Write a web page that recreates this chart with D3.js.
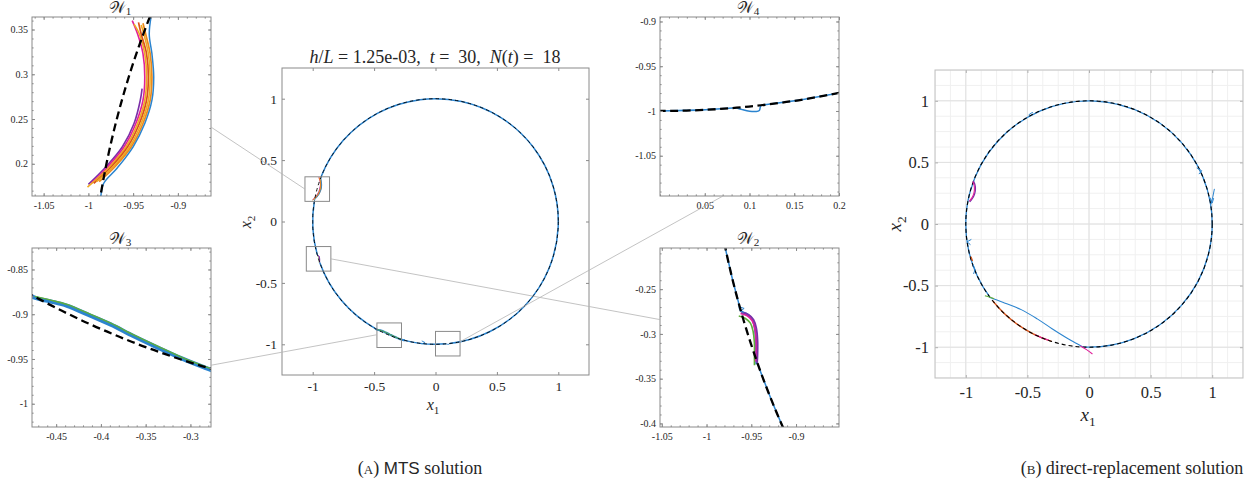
<!DOCTYPE html>
<html>
<head>
<meta charset="utf-8">
<script src="https://cdn.jsdelivr.net/npm/d3@7"></script>
<style>
body { margin: 0; background: #fff; }
svg text { font-family: "Liberation Serif", "Times New Roman", serif; fill: #262626; }
</style>
</head>
<body>
<svg id="fig" width="1253" height="486" font-family="Liberation Serif, Times New Roman, serif"></svg>
<script>
// ---- data ----
const mainTicks = [-1, -0.5, 0, 0.5, 1];
const mainDomain = [-1.25, 1.25];

// insets: windows on the unit circle
const w1Dom = { x: [-1.063, -0.863], y: [0.164, 0.364] };
const w2Dom = { x: [-1.052, -0.852], y: [-0.404, -0.204] };
const w3Dom = { x: [-0.477, -0.277], y: [-1.026, -0.826] };
const w4Dom = { x: [0, 0.2], y: [-1.095, -0.895] };
const w1XTicks = [-1.05, -1, -0.95, -0.9], w1YTicks = [0.2, 0.25, 0.3, 0.35];
const w2XTicks = [-1.05, -1, -0.95, -0.9], w2YTicks = [-0.4, -0.35, -0.3, -0.25];
const w3XTicks = [-0.45, -0.4, -0.35, -0.3], w3YTicks = [-1, -0.95, -0.9, -0.85];
const w4XTicks = [0.05, 0.1, 0.15, 0.2], w4YTicks = [-1.05, -1, -0.95, -0.9];

// blue trajectory arcs on the circle (degrees), panel A
const arcsA = [[276.6, 518.3], [170.5, 195.5], [199.5, 240.7], [255.5, 274.9]];

// W1 bundle
const w1Purple = [[-1.000, 0.177], [-0.980, 0.197], [-0.962, 0.219], [-0.949, 0.245], [-0.942, 0.271], [-0.940, 0.284]];
const w1Magenta = [[-0.997, 0.178], [-0.978, 0.197], [-0.960, 0.219], [-0.947, 0.245], [-0.939, 0.271], [-0.937, 0.297], [-0.939, 0.323], [-0.945, 0.345], [-0.951, 0.360]];
const w1Yellow = [[-1.001, 0.174], [-0.976, 0.197], [-0.958, 0.219], [-0.945, 0.245], [-0.937, 0.271], [-0.935, 0.297], [-0.937, 0.323], [-0.943, 0.345], [-0.949, 0.356]];
const w1Orange = [[-0.994, 0.178], [-0.974, 0.197], [-0.956, 0.219], [-0.943, 0.245], [-0.935, 0.271], [-0.933, 0.297], [-0.935, 0.323], [-0.941, 0.345], [-0.944, 0.358]];
const w1Yellow2 = [[-0.991, 0.180], [-0.972, 0.197], [-0.954, 0.219], [-0.941, 0.245], [-0.933, 0.271], [-0.931, 0.297], [-0.933, 0.323], [-0.938, 0.345], [-0.941, 0.355]];
const w1Orange2 = [[-0.988, 0.180], [-0.970, 0.197], [-0.952, 0.219], [-0.939, 0.245], [-0.931, 0.271], [-0.929, 0.297], [-0.931, 0.323], [-0.936, 0.345], [-0.939, 0.357]];
const w1Blue = [[-0.986, 0.164], [-0.983, 0.178], [-0.968, 0.195], [-0.950, 0.219], [-0.937, 0.245], [-0.929, 0.271], [-0.927, 0.297], [-0.929, 0.323], [-0.932, 0.345], [-0.929, 0.370]];

// W2 bundle
const w2Blue = [[-0.9635, -0.268], [-0.962, -0.274], [-0.955, -0.2775], [-0.9495, -0.2825], [-0.9465, -0.292], [-0.945, -0.3065], [-0.945, -0.3215], [-0.9445, -0.334]];
const w2Green = [[-0.964, -0.280], [-0.957, -0.2825], [-0.951, -0.288], [-0.948, -0.297], [-0.9465, -0.310], [-0.9465, -0.323], [-0.9465, -0.335]];
const w2Magenta = [[-0.962, -0.277], [-0.955, -0.2795], [-0.949, -0.285], [-0.946, -0.294], [-0.9445, -0.308], [-0.9445, -0.322], [-0.945, -0.331]];
const w2Purple = [[-0.961, -0.276], [-0.953, -0.2785], [-0.9475, -0.284], [-0.9445, -0.293], [-0.943, -0.307], [-0.943, -0.322], [-0.9435, -0.333]];
const w2Zig = [[-0.9625, -0.270], [-0.958, -0.2715], [-0.962, -0.2745], [-0.9585, -0.2765]];

// W3 bundle
const w3Blue = [[-0.490, -0.8717], [-0.474, -0.8815], [-0.457, -0.8855], [-0.438, -0.8905], [-0.412, -0.9015], [-0.389, -0.9115], [-0.3635, -0.9245], [-0.336, -0.9375], [-0.3095, -0.9495], [-0.287, -0.9585], [-0.2745, -0.9630], [-0.25, -0.9682]];
const w3Green = [[-0.474, -0.8800], [-0.457, -0.8840], [-0.438, -0.8890], [-0.412, -0.9000], [-0.389, -0.9100], [-0.3635, -0.9230], [-0.336, -0.9360], [-0.3095, -0.9482], [-0.287, -0.9572], [-0.2745, -0.9618]];

// W4 dip
const w4Blue = [[0.085, -0.9964], [0.092, -0.9985], [0.100, -1.0003], [0.107, -1.0006], [0.111, -0.9995], [0.1125, -0.9945], [0.115, -0.9934]];

// small barb in A
const barbA = [[-0.112, -0.972], [-0.085, -0.986], [-0.112, -0.998]];

// panel B
const arcsB = [[-92.9, 216.3]];
const orangeArcsB = [[218.7, 252.5]];
const magentaArcsB = [[244, 251]];
const chordB = [[-0.81, -0.595], [-0.7, -0.635], [-0.55, -0.695], [-0.42, -0.77], [-0.3, -0.85], [-0.18, -0.925], [-0.1, -0.97], [-0.05, -0.998]];
const magentaB = [[-0.07, -0.99], [-0.02, -1.02], [0.028, -1.055]];
const greenB = [[-0.845, -0.583], [-0.805, -0.594], [-0.77, -0.606]];
const bumpPurpleB = [[-0.968, 0.18], [-0.948, 0.205], [-0.93, 0.24], [-0.922, 0.28], [-0.926, 0.32], [-0.94, 0.35]];
const bumpMagentaB = [[-0.972, 0.185], [-0.952, 0.21], [-0.936, 0.245], [-0.93, 0.28], [-0.933, 0.315], [-0.945, 0.345]];
const orangeB = [[-0.958, -0.265], [-0.945, -0.3]];
const barbsB = [
    [[0.875, 0.455], [0.915, 0.432], [0.892, 0.405]],
    [[0.99, 0.16], [1.005, 0.22], [1.018, 0.285]],
    [[0.982, 0.215], [1.0, 0.17], [1.012, 0.21]],
    [[-0.955, -0.125], [-0.99, -0.145], [-0.962, -0.168]],
    [[-0.94, -0.33], [-0.925, -0.37], [-0.937, -0.405]],
    [[-0.49, 0.885], [-0.47, 0.9], [-0.455, 0.905]]
];

const blue = "#2b84cf", purple = "#7b2fa8", magenta = "#e0209a", yellow = "#f0aa22",
      orange = "#d95319", orange2 = "#ec8a1c", green = "#5fae3a";
const serif = "Liberation Serif, Times New Roman, serif";

const seriesA = [
    { pts: w1Purple, color: purple, w: 1.6 },
    { pts: w1Magenta, color: magenta, w: 1.6 },
    { pts: w1Yellow, color: yellow, w: 1.6 },
    { pts: w1Orange, color: orange, w: 1.7 },
    { pts: w1Yellow2, color: yellow, w: 1.6 },
    { pts: w1Orange2, color: orange2, w: 1.7 },
    { pts: w1Blue, color: blue, w: 1.5 },
    { pts: w2Blue, color: blue, w: 1.8 },
    { pts: w2Green, color: green, w: 1.6 },
    { pts: w2Magenta, color: magenta, w: 1.8 },
    { pts: w2Purple, color: purple, w: 1.8 },
    { pts: w2Zig, color: blue, w: 1.0, linear: true },
    { pts: w3Blue, color: blue, w: 4.2 },
    { pts: w3Green, color: green, w: 1.4 },
    { pts: w4Blue, color: blue, w: 1.5 },
    { pts: barbA, color: blue, w: 1.0, linear: true }
];

// ---- drawing ----
const svg = d3.select("#fig");
let clipN = 0;

function makePanel(p) {
    const x = d3.scaleLinear().domain(p.xDom).range([p.left, p.left + p.size]);
    const y = d3.scaleLinear().domain(p.yDom).range([p.top + p.size, p.top]);
    const id = "clip" + (clipN++);
    svg.append("clipPath").attr("id", id).append("rect")
        .attr("x", p.left).attr("y", p.top).attr("width", p.size).attr("height", p.size);
    const g = svg.append("g");
    const plot = g.append("g").attr("clip-path", `url(#${id})`);
    return { x, y, g, plot, left: p.left, top: p.top, size: p.size };
}

function axes(pn, o) {
    const { x, y, left, top, size } = pn;
    const fmt = d => String(d);
    const style = g => {
        g.select(".domain").remove();
        g.attr("font-family", serif).attr("font-size", o.fs).style("color", o.tick);
        g.selectAll("text").attr("fill", "#262626").attr("font-family", serif);
    };
    const sides = [
        [d3.axisBottom(x), `translate(0,${top + size})`, o.xt, o.padX],
        [d3.axisTop(x), `translate(0,${top})`, o.xt, null],
        [d3.axisLeft(y), `translate(${left},0)`, o.yt, o.padY],
        [d3.axisRight(y), `translate(${left + size},0)`, o.yt, null]
    ];
    sides.forEach(([ax, tr, vals, pad]) => {
        pn.g.append("g").attr("transform", tr)
            .call(ax.tickValues(vals).tickSizeInner(-o.tl).tickSizeOuter(0)
                .tickPadding(pad === null ? 0 : pad)
                .tickFormat(pad === null ? "" : fmt))
            .call(style);
    });
    if (o.minor) {
        [[d3.axisBottom(x), `translate(0,${top + size})`, x],
         [d3.axisTop(x), `translate(0,${top})`, x],
         [d3.axisLeft(y), `translate(${left},0)`, y],
         [d3.axisRight(y), `translate(${left + size},0)`, y]].forEach(([ax, tr, s]) => {
            pn.g.append("g").attr("transform", tr)
                .call(ax.tickValues(s.ticks(20)).tickSizeInner(-1.6).tickSizeOuter(0).tickFormat(""))
                .call(style);
        });
    }
    pn.g.append("rect").attr("x", left).attr("y", top).attr("width", size).attr("height", size)
        .attr("fill", "none").attr("stroke", o.box).attr("stroke-width", 1);
}

function arcPath(pn, a0, a1) {
    const p = d3.path();
    const cx = pn.x(0), cy = pn.y(0), r = pn.x(1) - pn.x(0);
    const t0 = -a0 * Math.PI / 180, t1 = -a1 * Math.PI / 180;
    p.moveTo(cx + r * Math.cos(t0), cy + r * Math.sin(t0));
    p.arc(cx, cy, r, t0, t1, true);
    return p.toString();
}

function drawArcs(pn, arcs, color, w) {
    arcs.forEach(a => pn.plot.append("path").attr("d", arcPath(pn, a[0], a[1]))
        .attr("fill", "none").attr("stroke", color).attr("stroke-width", w));
}

function drawCircle(pn, w, dash) {
    pn.plot.append("circle").attr("cx", pn.x(0)).attr("cy", pn.y(0)).attr("r", pn.x(1) - pn.x(0))
        .attr("fill", "none").attr("stroke", "#000").attr("stroke-width", w).attr("stroke-dasharray", dash);
}

function drawSeries(pn, list, scaleW, minW) {
    list.forEach(s => {
        const line = d3.line().x(d => pn.x(d[0])).y(d => pn.y(d[1]))
            .curve(s.linear ? d3.curveLinear : d3.curveCatmullRom.alpha(0.5));
        pn.plot.append("path").attr("d", line(s.pts)).attr("fill", "none")
            .attr("stroke", s.color).attr("stroke-width", Math.max(minW, s.w * scaleW))
            .attr("stroke-linejoin", "round");
    });
}

function label(x, y, size, parts, opts = {}) {
    const t = svg.append("text").attr("x", x).attr("y", y).attr("font-size", size)
        .attr("font-family", serif).attr("fill", "#262626")
        .attr("text-anchor", opts.anchor || "middle").style("white-space", "pre");
    if (opts.rotate) t.attr("transform", `rotate(-90,${x},${y})`);
    parts.forEach(p => {
        const ts = t.append("tspan").text(p.t);
        if (p.i) ts.attr("font-style", "italic");
        if (p.sub) ts.attr("font-size", size * 0.7).attr("dy", p.dy !== undefined ? p.dy : size * 0.25);
        if (p.fam) ts.attr("font-family", p.fam);
        if (p.fs) ts.attr("font-size", p.fs);
    });
    return t;
}

// ---- panel A main ----
const A = makePanel({ xDom: mainDomain, yDom: mainDomain, left: 282, top: 68, size: 307 });
drawArcs(A, arcsA, blue, 1.5);
drawSeries(A, seriesA, 0.5, 0.9);
drawCircle(A, 0.9, "3.5,3");
axes(A, { xt: mainTicks, yt: mainTicks, fs: 13.5, tl: 3, padX: 6, padY: 5, tick: "#8a8a8a", box: "#8a8a8a" });

// inset windows marked on the main plot
const insets = [
    { name: "1", dom: w1Dom, left: 32, top: 17, xt: w1XTicks, yt: w1YTicks },
    { name: "3", dom: w3Dom, left: 32, top: 248, xt: w3XTicks, yt: w3YTicks },
    { name: "4", dom: w4Dom, left: 660, top: 17, xt: w4XTicks, yt: w4YTicks },
    { name: "2", dom: w2Dom, left: 660, top: 248, xt: w2XTicks, yt: w2YTicks }
];
// connector anchors: fraction along inset box -> fraction along marked window
const connectors = [
    { w: "1", inset: [1, 0.615], win: [0, 0.5] },
    { w: "3", inset: [1, 0.655], win: [0, 0.48] },
    { w: "4", inset: [0.352, 1], win: [1, 0.42] },
    { w: "2", inset: [0, 0.40], win: [1, 0.5] }
];

insets.forEach(w => {
    const x0 = A.x(w.dom.x[0]), x1 = A.x(w.dom.x[1]), y0 = A.y(w.dom.y[1]), y1 = A.y(w.dom.y[0]);
    A.g.append("rect").attr("x", x0).attr("y", y0).attr("width", x1 - x0).attr("height", y1 - y0)
        .attr("fill", "none").attr("stroke", "#8a8a8a").attr("stroke-width", 1);

    const P = makePanel({ xDom: w.dom.x, yDom: w.dom.y, left: w.left, top: w.top, size: 179 });
    drawArcs(P, arcsA, blue, 1.5);
    drawSeries(P, seriesA, 1, 1);
    drawCircle(P, 2.3, "8,4.5");
    axes(P, { xt: w.xt, yt: w.yt, fs: 10, tl: 3, padX: 6, padY: 4, tick: "#8a8a8a", box: "#8a8a8a", minor: true });
    label(w.left + 88, w.top - 4, 16, [{ t: "\u{1D4B2}" }, { t: w.name, sub: true, dy: 2 }]);
});

connectors.forEach(c => {
    const w = insets.find(d => d.name === c.w);
    const xa = w.left + c.inset[0] * 179, ya = w.top + c.inset[1] * 179;
    const x0 = A.x(w.dom.x[0]), x1 = A.x(w.dom.x[1]), y0 = A.y(w.dom.y[1]), y1 = A.y(w.dom.y[0]);
    const xb = x0 + c.win[0] * (x1 - x0), yb = y0 + c.win[1] * (y1 - y0);
    svg.append("line").attr("x1", xa).attr("y1", ya).attr("x2", xb).attr("y2", yb)
        .attr("stroke", "#b4b4b4").attr("stroke-width", 0.8);
});

// titles / labels A
label(435, 63, 18, [{ t: "h", i: true }, { t: "/" }, { t: "L", i: true }, { t: " = 1.25e-03,  " },
    { t: "t", i: true }, { t: " =  30,  " }, { t: "N", i: true }, { t: "(" }, { t: "t", i: true }, { t: ") =  18" }]);
label(433, 410, 16, [{ t: "x", i: true }, { t: "1", sub: true }]);
label(251, 222, 16, [{ t: "x", i: true }, { t: "2", sub: true }], { rotate: true });

// ---- panel B ----
const B = makePanel({ xDom: mainDomain, yDom: mainDomain, left: 935, top: 70, size: 308 });
const gridMinor = d3.range(-1.25, 1.2501, 0.125);
B.plot.append("g").selectAll("line.mx").data(gridMinor).join("line")
    .attr("x1", d => B.x(d)).attr("x2", d => B.x(d)).attr("y1", B.top).attr("y2", B.top + B.size)
    .attr("stroke", "#f0f0f0").attr("stroke-width", 1);
B.plot.append("g").selectAll("line.my").data(gridMinor).join("line")
    .attr("y1", d => B.y(d)).attr("y2", d => B.y(d)).attr("x1", B.left).attr("x2", B.left + B.size)
    .attr("stroke", "#f0f0f0").attr("stroke-width", 1);
B.plot.append("g").selectAll("line.gx").data(mainTicks).join("line")
    .attr("x1", d => B.x(d)).attr("x2", d => B.x(d)).attr("y1", B.top).attr("y2", B.top + B.size)
    .attr("stroke", "#e0e0e0").attr("stroke-width", 1);
B.plot.append("g").selectAll("line.gy").data(mainTicks).join("line")
    .attr("y1", d => B.y(d)).attr("y2", d => B.y(d)).attr("x1", B.left).attr("x2", B.left + B.size)
    .attr("stroke", "#e0e0e0").attr("stroke-width", 1);

drawArcs(B, arcsB, blue, 1.3);
drawArcs(B, orangeArcsB, orange, 1.3);
drawArcs(B, magentaArcsB, magenta, 1.3);
drawCircle(B, 1.1, "4,3");
drawSeries(B, [
    { pts: chordB, color: blue, w: 1.1 },
    { pts: magentaB, color: magenta, w: 1.1 },
    { pts: greenB, color: green, w: 1.1 },
    { pts: bumpPurpleB, color: purple, w: 1.3 },
    { pts: bumpMagentaB, color: magenta, w: 1.1 },
    { pts: orangeB, color: orange, w: 1.2, linear: true }
].concat(barbsB.map(b => ({ pts: b, color: blue, w: 1.0, linear: true }))), 1, 0.8);
axes(B, { xt: mainTicks, yt: mainTicks, fs: 16.5, tl: 3, padX: 8, padY: 6, tick: "#b0b0b0", box: "#c0c0c0" });
label(1088, 421, 19, [{ t: "x", i: true }, { t: "1", sub: true }]);
label(901, 224, 19, [{ t: "x", i: true }, { t: "2", sub: true }], { rotate: true });

// captions
label(420, 474, 18, [{ t: "(" }, { t: "A", fs: 13 }, { t: ") " }, { t: "MTS", fam: "Liberation Sans, DejaVu Sans, sans-serif", fs: 17 }, { t: " solution" }]);
label(1132, 474, 18, [{ t: "(" }, { t: "B", fs: 13 }, { t: ") direct-replacement solution" }]);
</script>
</body>
</html>
